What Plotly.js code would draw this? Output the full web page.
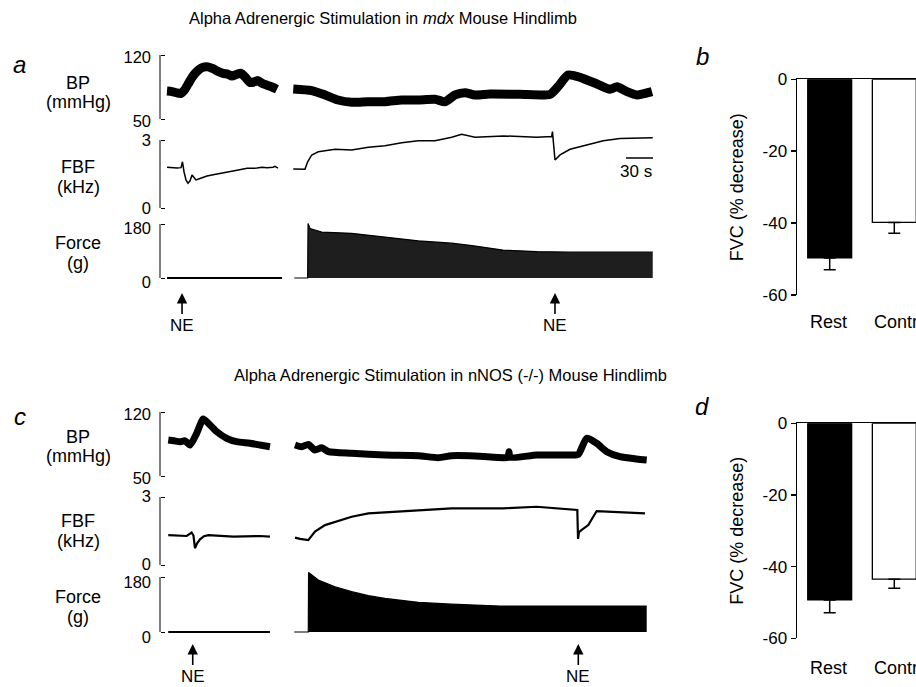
<!DOCTYPE html>
<html>
<head>
<meta charset="utf-8">
<script src="https://cdn.plot.ly/plotly-3.0.1.min.js"></script>
<style>html,body{margin:0;padding:0;background:#fff;}#chart{width:916px;height:687px;}</style>
</head>
<body>
<div id="chart"></div>
<script>
// ================= DATA =================
// Panel a (mdx) — time in seconds
const a_bp_left_t = [0, 5.6, 11.1, 15.6, 18.9, 23.3, 28.9, 34.4, 40, 45.6, 51.1, 56.7, 62.2, 67.8, 72.2, 77.8, 82.2, 86.7, 92.2, 96.7, 101.1, 105.6, 111.1, 116.7, 122.2];
const a_bp_left   = [80.5, 80, 78.5, 78, 81, 88, 97, 103, 106.5, 107, 105, 102, 100, 99, 97, 99, 100, 96, 90, 90.5, 92, 89, 87, 85, 82.5];
const a_bp_right_t = [140.3, 160.8, 175.6, 190, 205.2, 223.3, 242.2, 260.8, 278.9, 297.8, 308.9, 320, 331.1, 342.2, 358.9, 392.2, 425.6, 434.4, 445.6, 458.9, 477.8, 492.2, 500, 511.1, 522.2, 538.9];
const a_bp_right   = [82.8, 81.0, 76.3, 70.8, 68.3, 68.9, 68.9, 70.8, 70.8, 71.6, 68.9, 76.3, 78.8, 76.3, 77.3, 77.0, 77.0, 85.3, 98.1, 95.6, 88.3, 82.5, 85.3, 79.9, 76.3, 79.9];

const a_fbf_left_t = [0, 11.1, 15.6, 17.2, 18.9, 21.1, 23.3, 25.6, 27.8, 30, 32.2, 36.7, 44.4, 55.6, 66.7, 77.8, 88.9, 100, 105.6, 111.1, 117.8, 120, 123.3];
const a_fbf_left   = [1.80, 1.76, 1.78, 2.04, 1.60, 1.24, 1.09, 1.20, 1.46, 1.35, 1.24, 1.30, 1.41, 1.50, 1.60, 1.67, 1.75, 1.76, 1.80, 1.78, 1.80, 1.84, 1.76];
const a_fbf_right_t = [140.3, 153.3, 156.3, 160.8, 168.1, 186.7, 205.2, 223.7, 242.2, 260.8, 279.2, 297.8, 316.3, 327.4, 342.2, 373.7, 410.8, 427.4, 428.3, 431.1, 436.7, 447.8, 466.3, 484.8, 503.3, 521.9, 539.7];
const a_fbf_right   = [1.72, 1.71, 2.04, 2.34, 2.48, 2.59, 2.56, 2.68, 2.75, 2.88, 2.97, 2.97, 3.12, 3.25, 3.12, 3.18, 3.12, 3.15, 3.37, 2.12, 2.34, 2.59, 2.78, 2.97, 3.07, 3.07, 3.10];

const a_force_left_t = [0, 127.8];
const a_force_left   = [0, 0];
const a_force_right_t = [141.4, 156.3, 156.7, 158.9, 164.4, 171.9, 205.2, 242.2, 279.2, 316.3, 338.9, 373.3, 410.8, 447.8, 484.4, 539.7];
const a_force_right   = [0, 0, 182, 165, 160, 153, 149, 136, 124, 116, 108, 93, 88, 86, 86, 86];

const a_ne_t = [16.7, 431.1];

// Panel c (nNOS -/-)
const c_bp_left_t = [1.4, 7.8, 14.4, 20, 25.6, 33, 40.3, 47.8, 55.2, 66.3, 77.4, 92.2, 103.3, 114.4];
const c_bp_left   = [89.4, 88.5, 87.5, 88.5, 83.9, 96.7, 112.3, 105.8, 98.5, 91.2, 87.5, 85.8, 83.9, 82.0];
const c_bp_right_t = [142.2, 149.7, 157, 164.4, 171.9, 179.3, 205.2, 242.2, 279.2, 301.4, 316.3, 342.2, 373.7, 378.9, 380, 381.1, 410.8, 447.8, 457, 466.3, 477.4, 488.6, 503.3, 521.9, 533];
const c_bp_right   = [83.9, 82.0, 84.6, 78.4, 80.9, 76.6, 74.8, 73.0, 72.2, 70.0, 72.2, 71.9, 70.0, 70.5, 76.6, 70.5, 73.0, 73.0, 73.7, 91.2, 85.8, 76.6, 71.1, 68.6, 67.5];

const c_fbf_left_t = [1.4, 21.9, 27.4, 29.4, 31.1, 33.3, 36.7, 41.1, 45.9, 73.7, 103.3, 114.4];
const c_fbf_left   = [1.32, 1.28, 1.43, 1.30, 0.74, 0.95, 1.13, 1.27, 1.32, 1.25, 1.28, 1.25];
const c_fbf_right_t = [142.2, 147.8, 157, 164.4, 175.6, 190.3, 205.2, 223.7, 242.2, 260.8, 279.2, 297.8, 316.3, 342.2, 373.7, 410.8, 447.8, 455.9, 456.7, 457.8, 460.8, 468.1, 477.4, 495.9, 514.4, 531.1];
const c_fbf_right   = [1.21, 1.15, 1.10, 1.47, 1.76, 1.94, 2.13, 2.28, 2.32, 2.38, 2.43, 2.47, 2.50, 2.50, 2.50, 2.57, 2.47, 2.43, 1.15, 1.45, 1.55, 1.76, 2.38, 2.35, 2.32, 2.28];

const c_force_left_t = [1.4, 114.4];
const c_force_left   = [0, 0];
const c_force_right_t = [141.4, 157, 157.3, 168.1, 186.7, 205.2, 223.7, 242.2, 279.2, 316.3, 370, 533];
const c_force_right   = [0, 0, 195, 170, 148, 132, 119, 110, 97, 91, 85, 85];

const c_ne_t = [28.6, 457.0];

// Bar panels b and d
const categories = ['Rest', 'Contraction'];
const b_values = [-49.7, -39.8];
const b_err    = [3.3, 3.0];
const d_values = [-49.3, -43.5];
const d_err    = [3.6, 2.5];
const bar_ticks = [0, -20, -40, -60];

const bp_ticks = [50, 120];
const fbf_ticks = [0, 3];
const force_ticks = [0, 180];
const scale_bar_s = [510, 540];

// ================= LAYOUT HELPERS =================
const W = 916, H = 687;
const FONT = 'Liberation Sans, Arial, Helvetica, sans-serif';
const px = p => p / W;
const py = p => 1 - p / H;
function ysc(v0, p0, v1, p1, pTop, pBot) {
  const k = (v1 - v0) / (p1 - p0);
  const val = p => v0 + (p - p0) * k;
  return {domain: [py(pBot), py(pTop)], range: [val(pBot), val(pTop)]};
}
function xsc(v0, p0, v1, p1, pL, pR) {
  const k = (v1 - v0) / (p1 - p0);
  const val = p => v0 + (p - p0) * k;
  return {domain: [px(pL), px(pR)], range: [val(pL), val(pR)]};
}

const timeX = xsc(0, 167, 540, 653, 150, 660);
const sc = {
  aBP: ysc(50, 119, 120, 55, 48, 124),
  aFBF: ysc(0, 208, 3, 140, 126, 213),
  aF: ysc(0, 278, 180, 224, 214, 284),
  cBP: ysc(50, 476, 120, 412, 404, 482),
  cFBF: ysc(0, 565, 3, 497, 486, 570),
  cF: ysc(0, 632, 180, 577, 568, 640)
};

function traceAxis(s, ticks, shift) {
  return Object.assign({}, s, {
    anchor: 'free', position: px(160), showline: false, showgrid: false, zeroline: false,
    ticks: 'inside', ticklen: 4, tickwidth: 1, tickcolor: '#000',
    tickvals: ticks, ticktext: ticks.map(String),
    tickfont: {family: FONT, size: 16.5, color: '#000'}, ticklabelstandoff: 9,
    ticklabelshift: shift, fixedrange: true
  });
}
function hiddenX(s) {
  return Object.assign({}, s, {visible: false, fixedrange: true});
}

const traces = [];
function line(x, y, xa, ya, w, shape) {
  traces.push({type: 'scatter', mode: 'lines', x: x, y: y, xaxis: xa, yaxis: ya,
    line: {color: '#000', width: w, shape: shape || 'linear', smoothing: 0.6}, hoverinfo: 'skip'});
}
function fillTrace(x, y, xa, ya, col) {
  traces.push({type: 'scatter', mode: 'lines', x: x, y: y, xaxis: xa, yaxis: ya, fill: 'tozeroy',
    fillcolor: col, line: {color: '#000', width: 1.2}, hoverinfo: 'skip'});
}
// panel a
line(a_bp_left_t, a_bp_left, 'x', 'y', 9, 'spline');
line(a_bp_right_t, a_bp_right, 'x', 'y', 9, 'spline');
line(a_fbf_left_t, a_fbf_left, 'x', 'y2', 1.5);
line(a_fbf_right_t, a_fbf_right, 'x', 'y2', 1.5);
line(a_force_left_t, a_force_left, 'x', 'y3', 2);
fillTrace(a_force_right_t, a_force_right, 'x', 'y3', '#1e1e1e');
// panel c
line(c_bp_left_t, c_bp_left, 'x2', 'y4', 7, 'spline');
line(c_bp_right_t, c_bp_right, 'x2', 'y4', 7, 'spline');
line(c_fbf_left_t, c_fbf_left, 'x2', 'y5', 2.2);
line(c_fbf_right_t, c_fbf_right, 'x2', 'y5', 2.2);
line(c_force_left_t, c_force_left, 'x2', 'y6', 2);
fillTrace(c_force_right_t, c_force_right, 'x2', 'y6', '#000');

// bars
function bars(vals, errs, xa, ya) {
  traces.push({type: 'bar', x: categories.map((c, i) => i), y: vals, xaxis: xa, yaxis: ya,
    width: 0.68,
    marker: {color: ['#000', '#fff'], line: {color: '#000', width: 1.3}},
    error_y: {type: 'data', symmetric: false, array: errs.map(() => 0), arrayminus: errs,
      color: '#000', thickness: 1.5, width: 6},
    hoverinfo: 'skip'});
}
bars(b_values, b_err, 'x3', 'y7');
bars(d_values, d_err, 'x4', 'y8');

const barX = xsc(0, 829.7, 1, 894.3, 797, 916);
function barXAxis(anchor) {
  return Object.assign({}, barX, {anchor: anchor, side: 'top', showline: true, linewidth: 1.5, linecolor: '#000',
    showticklabels: false, ticks: '', showgrid: false, zeroline: false, fixedrange: true});
}
function barYAxis(s, anchor) {
  return Object.assign({}, s, {anchor: anchor, showline: true, linewidth: 1.5, linecolor: '#000',
    ticks: 'outside', ticklen: 5, tickwidth: 1.5, tickcolor: '#000',
    tickvals: bar_ticks, ticktext: bar_ticks.map(String),
    tickfont: {family: FONT, size: 17, color: '#000'},
    showgrid: false, zeroline: false, fixedrange: true,
    title: {text: 'FVC (% decrease)', font: {family: FONT, size: 18, color: '#000'}, standoff: 14}});
}
const bY = ysc(-60, 295, 0, 79.3, 79.3, 295);
const dY = ysc(-60, 638.3, 0, 423.3, 423.3, 638.3);

// annotations
const ann = [];
function txt(text, x, y, size, extra) {
  ann.push(Object.assign({text: text, xref: 'paper', yref: 'paper', x: px(x), y: py(y),
    xanchor: 'center', yanchor: 'middle', showarrow: false,
    font: {family: FONT, size: size, color: '#000'}}, extra || {}));
}
txt('Alpha Adrenergic Stimulation in <i>mdx</i> Mouse Hindlimb', 383, 18, 16.5);
txt('Alpha Adrenergic Stimulation in nNOS (-/-) Mouse Hindlimb', 450, 375, 16.5);
txt('<i>a</i>', 19, 64, 24);
txt('<i>b</i>', 702, 56, 24);
txt('<i>c</i>', 20, 416, 24);
txt('<i>d</i>', 702, 406, 24);
const rowLabels = [['BP', 83], ['(mmHg)', 102], ['FBF', 167], ['(kHz)', 187], ['Force', 243], ['(g)', 263]];
rowLabels.forEach(r => { txt(r[0], 78, r[1], 18); txt(r[0], 78, r[1] + 354, 18); });
txt('30 s', 636, 171, 17);

function neArrows(times, xa, tipPx) {
  times.forEach(t => ann.push({text: 'NE', x: t, xref: xa, y: py(tipPx), yref: 'paper',
    showarrow: true, ax: 0, ay: 32, arrowhead: 2, arrowsize: 1.3, arrowwidth: 1.6, arrowcolor: '#000',
    font: {family: FONT, size: 17, color: '#000'}}));
}
neArrows(a_ne_t, 'x', 293);
neArrows(c_ne_t, 'x2', 644);

function catLabels(xa, yPx) {
  categories.forEach((c, i) => ann.push({text: c, x: i - 0.34, xref: xa, y: py(yPx), yref: 'paper',
    xanchor: 'left', yanchor: 'middle', showarrow: false, font: {family: FONT, size: 18, color: '#000'}}));
}
catLabels('x3', 322);
catLabels('x4', 668);

// shapes: axis brackets and scale bar
const shapes = [];
function bracket(yref, ticks) {
  shapes.push({type: 'line', xref: 'paper', x0: px(160), x1: px(160), yref: yref,
    y0: ticks[0], y1: ticks[ticks.length - 1], line: {color: '#000', width: 1}});
}
bracket('y', bp_ticks); bracket('y2', fbf_ticks); bracket('y3', force_ticks);
bracket('y4', bp_ticks); bracket('y5', fbf_ticks); bracket('y6', force_ticks);
shapes.push({type: 'line', xref: 'x', x0: scale_bar_s[0], x1: scale_bar_s[1], yref: 'paper',
  y0: py(158), y1: py(158), line: {color: '#000', width: 1.5}});

const layout = {
  width: W, height: H, margin: {l: 0, r: 0, t: 0, b: 0},
  paper_bgcolor: '#fff', plot_bgcolor: 'rgba(0,0,0,0)', showlegend: false,
  font: {family: FONT, color: '#000'},
  xaxis: hiddenX(Object.assign({anchor: 'y'}, timeX)),
  xaxis2: hiddenX(Object.assign({anchor: 'y4'}, timeX)),
  xaxis3: barXAxis('y7'),
  xaxis4: barXAxis('y8'),
  yaxis: traceAxis(sc.aBP, bp_ticks, 2),
  yaxis2: traceAxis(sc.aFBF, fbf_ticks, 0),
  yaxis3: traceAxis(sc.aF, force_ticks, 4),
  yaxis4: traceAxis(sc.cBP, bp_ticks, 2),
  yaxis5: traceAxis(sc.cFBF, fbf_ticks, -1),
  yaxis6: traceAxis(sc.cF, force_ticks, 5),
  yaxis7: barYAxis(bY, 'x3'),
  yaxis8: barYAxis(dY, 'x4'),
  annotations: ann,
  shapes: shapes,
  bargap: 0
};

Plotly.newPlot('chart', traces, layout, {staticPlot: true, displayModeBar: false});
</script>
</body>
</html>
